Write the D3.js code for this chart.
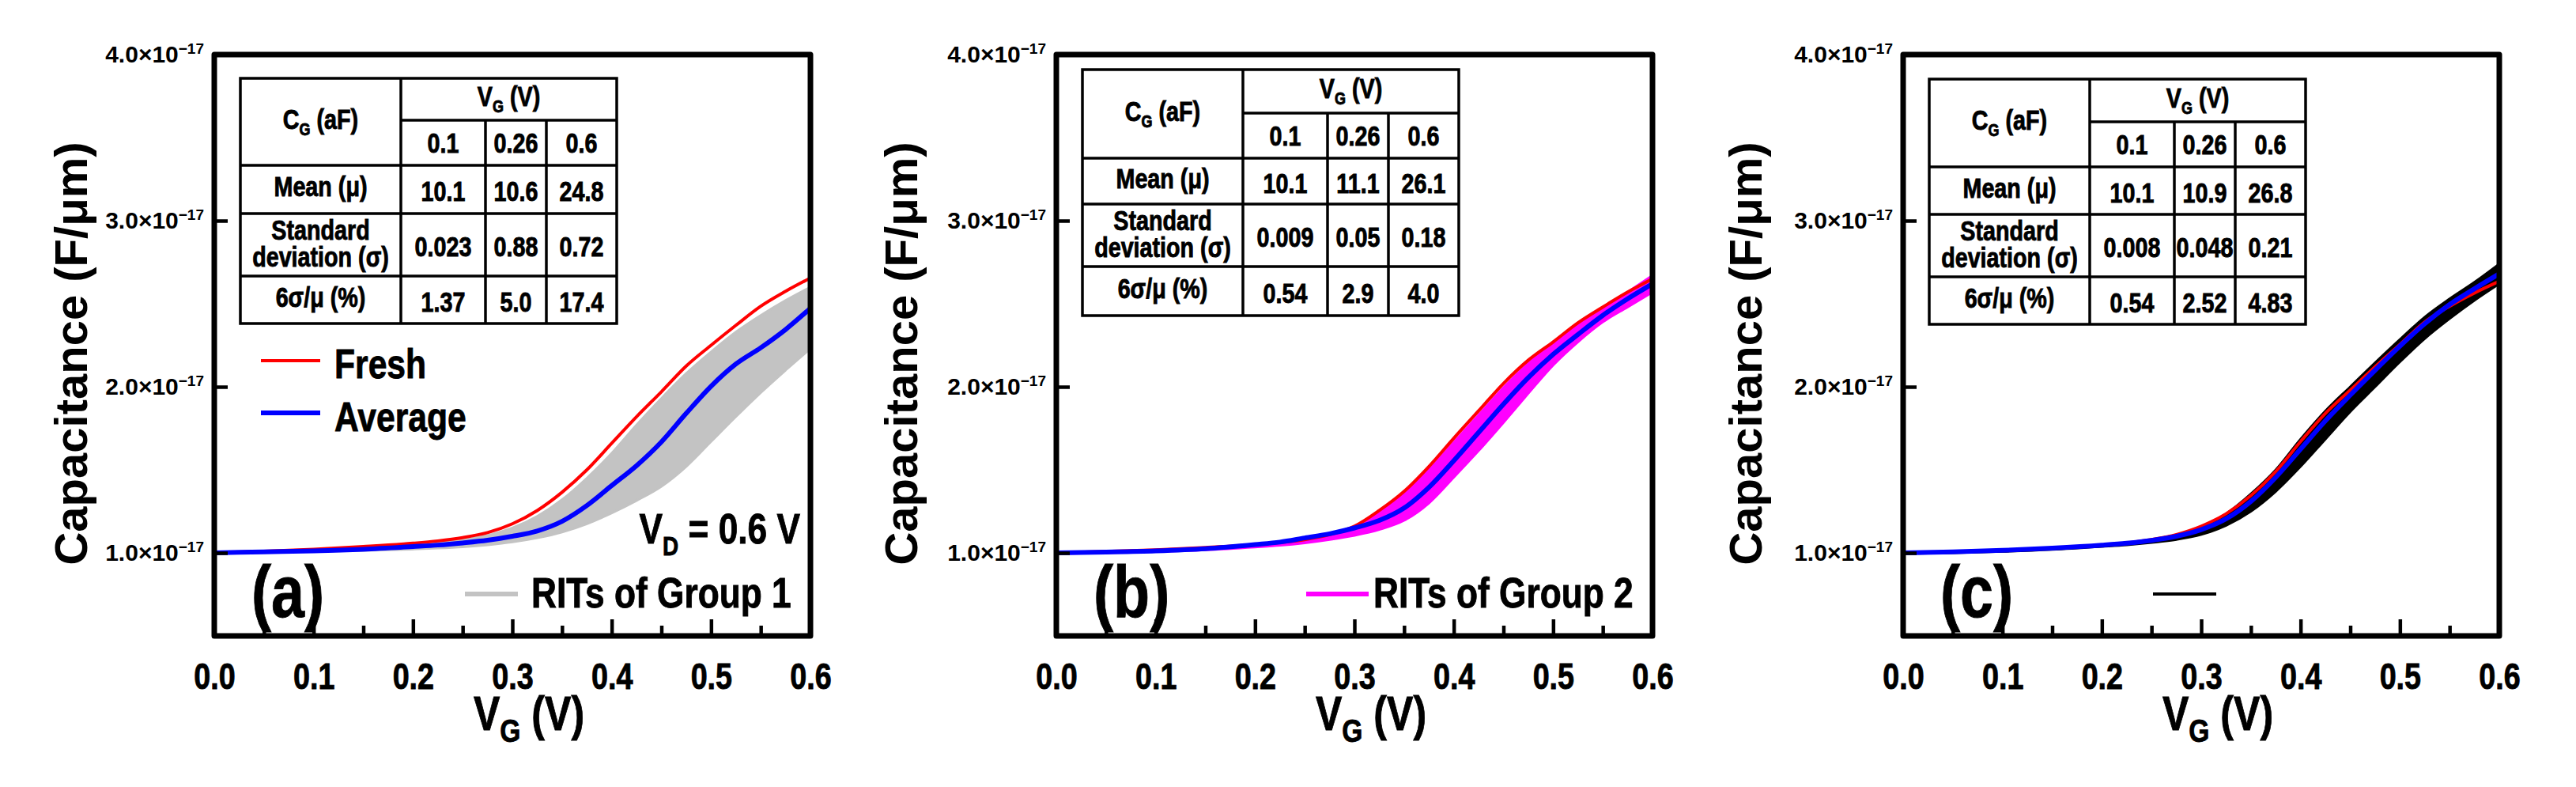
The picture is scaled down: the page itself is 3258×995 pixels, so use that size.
<!DOCTYPE html>
<html>
<head>
<meta charset="utf-8">
<script src="https://cdn.jsdelivr.net/npm/d3@7"></script>
<style>
  body { margin: 0; background: #fff; }
</style>
</head>
<body>
<div id="chart"></div>
<script>
// gate voltage grid shared by every curve (V)
var vgGrid = [0, 0.05, 0.1, 0.15, 0.2, 0.225, 0.25, 0.275, 0.3, 0.325, 0.35, 0.375, 0.4, 0.425, 0.45, 0.475, 0.5, 0.525, 0.55, 0.575, 0.6]

// capacitance, units of 1e-17 F/um
var freshA = [1.000, 1.010, 1.022, 1.038, 1.058, 1.072, 1.092, 1.122, 1.175, 1.255, 1.365, 1.500, 1.660, 1.820, 1.970, 2.125, 2.250, 2.370, 2.485, 2.575, 2.655]
var averageA = [1.000, 1.006, 1.012, 1.022, 1.038, 1.047, 1.060, 1.076, 1.100, 1.132, 1.190, 1.285, 1.405, 1.525, 1.668, 1.840, 2.003, 2.137, 2.235, 2.345, 2.473]
var ritsUpperA = [1.000, 1.008, 1.018, 1.032, 1.050, 1.060, 1.078, 1.105, 1.150, 1.220, 1.320, 1.450, 1.600, 1.770, 1.930, 2.080, 2.210, 2.330, 2.430, 2.520, 2.600]
var ritsLowerA = [1.000, 1.004, 1.008, 1.014, 1.022, 1.028, 1.036, 1.048, 1.065, 1.090, 1.125, 1.175, 1.240, 1.315, 1.400, 1.520, 1.670, 1.820, 1.965, 2.100, 2.230]

var freshB = [1.000, 1.008, 1.018, 1.032, 1.050, 1.063, 1.080, 1.110, 1.160, 1.255, 1.370, 1.520, 1.690, 1.855, 2.020, 2.160, 2.270, 2.385, 2.480, 2.570, 2.650]
var averageB = [1.000, 1.005, 1.012, 1.025, 1.050, 1.065, 1.090, 1.115, 1.150, 1.195, 1.270, 1.395, 1.555, 1.725, 1.895, 2.055, 2.195, 2.315, 2.430, 2.530, 2.620]
var ritsUpperB = [1.000, 1.008, 1.017, 1.030, 1.050, 1.062, 1.085, 1.110, 1.155, 1.240, 1.355, 1.500, 1.665, 1.830, 1.995, 2.140, 2.260, 2.370, 2.470, 2.570, 2.670]
var ritsLowerB = [0.995, 1.000, 1.008, 1.018, 1.035, 1.045, 1.060, 1.080, 1.105, 1.140, 1.195, 1.300, 1.455, 1.615, 1.785, 1.960, 2.130, 2.270, 2.390, 2.480, 2.570]

var freshC = [1.000, 1.006, 1.015, 1.028, 1.047, 1.060, 1.080, 1.110, 1.160, 1.235, 1.345, 1.490, 1.670, 1.840, 1.980, 2.120, 2.255, 2.390, 2.485, 2.565, 2.635]
var averageC = [1.000, 1.006, 1.015, 1.028, 1.046, 1.058, 1.075, 1.100, 1.140, 1.205, 1.310, 1.455, 1.625, 1.795, 1.950, 2.100, 2.245, 2.380, 2.495, 2.590, 2.680]
var ritsUpperC = [1.000, 1.007, 1.016, 1.030, 1.048, 1.060, 1.080, 1.108, 1.155, 1.235, 1.355, 1.500, 1.685, 1.855, 2.000, 2.145, 2.285, 2.420, 2.530, 2.630, 2.740]
var ritsLowerC = [0.995, 1.000, 1.008, 1.020, 1.038, 1.048, 1.062, 1.080, 1.110, 1.165, 1.250, 1.370, 1.520, 1.685, 1.850, 2.000, 2.150, 2.290, 2.410, 2.520, 2.620]

// inset tables (aF)
var tableVg = ['0.1', '0.26', '0.6']
var tableRowLabels = ['Mean (μ)', 'Standard|deviation (σ)', '6σ/μ (%)']
var meanA = ['10.1', '10.6', '24.8']
var sigmaA = ['0.023', '0.88', '0.72']
var ratioA = ['1.37', '5.0', '17.4']
var meanB = ['10.1', '11.1', '26.1']
var sigmaB = ['0.009', '0.05', '0.18']
var ratioB = ['0.54', '2.9', '4.0']
var meanC = ['10.1', '10.9', '26.8']
var sigmaC = ['0.008', '0.048', '0.21']
var ratioC = ['0.54', '2.52', '4.83']

// axes
var xMajor = [0, 0.1, 0.2, 0.3, 0.4, 0.5, 0.6]
var xMinor = [0.05, 0.15, 0.25, 0.35, 0.45, 0.55]
var yMajor = [1, 2, 3, 4]

var W = 3258
var H = 995
var frameW = 754
var frameTop = 69
var frameBottom = 804

var wide = "'Liberation Sans', Arial, sans-serif"
var squeeze = 0.82 // the figure uses a condensed bold face

var panels = [
  { left: 271, letter: '(a)', fresh: freshA, average: averageA, upper: ritsUpperA, lower: ritsLowerA,
    ritColor: '#c3c3c3', legendText: 'RITs of Group 1', legendLine: [317, 384], titleOffset: -182, showFreshLegend: true,
    rows: [99, 152, 209, 270, 349, 409], mean: meanA, sigma: sigmaA, ratio: ratioA },
  { left: 1336, letter: '(b)', fresh: freshB, average: averageB, upper: ritsUpperB, lower: ritsLowerB,
    ritColor: '#ff00ff', legendText: 'RITs of Group 2', legendLine: [316, 395], titleOffset: -197, showFreshLegend: false,
    rows: [88, 143, 200, 258, 337, 399], mean: meanB, sigma: sigmaB, ratio: ratioB },
  { left: 2407, letter: '(c)', fresh: freshC, average: averageC, upper: ritsUpperC, lower: ritsLowerC,
    ritColor: '#000000', legendText: '', legendLine: [316, 396], titleOffset: -200, showFreshLegend: false,
    rows: [100, 154, 211, 271, 350, 410], mean: meanC, sigma: sigmaC, ratio: ratioC }
]

var tableCols = [33, 236, 343, 420, 509]

var svg = d3.select('#chart').append('svg')
  .attr('width', W)
  .attr('height', H)
  .style('display', 'block')

svg.append('rect').attr('width', W).attr('height', H).attr('fill', '#fff')

var x = d3.scaleLinear().domain([0, 0.6]).range([0, frameW])
var y = d3.scaleLinear().domain([0.5, 4.0]).range([frameBottom, frameTop])

function lineFor (values) {
  return d3.line()
    .x(function (d, i) { return x(vgGrid[i]) })
    .y(function (d) { return y(d) })
    .curve(d3.curveMonotoneX)(values)
}

// condensed bold text anchored at (px, py)
function ntext (parent, px, py, size, anchor) {
  return parent.append('g')
    .attr('transform', 'translate(' + px + ',' + py + ') scale(' + squeeze + ',1)')
    .append('text')
    .attr('text-anchor', anchor || 'start')
    .attr('fill', '#000')
    .attr('stroke', '#000').attr('stroke-width', 0.9)
    .style('font-family', wide).style('font-weight', 'bold').style('font-size', size + 'px')
}

function drawTable (g, p) {
  var r = p.rows
  var c = tableCols
  var t = g.append('g')
  t.append('rect')
    .attr('x', c[0]).attr('y', r[0])
    .attr('width', c[4] - c[0]).attr('height', r[5] - r[0])
    .attr('fill', '#fff').attr('stroke', '#000').attr('stroke-width', 3.5)

  var segs = [
    [c[1], r[0], c[1], r[5]],
    [c[2], r[1], c[2], r[5]],
    [c[3], r[1], c[3], r[5]],
    [c[1], r[1], c[4], r[1]],
    [c[0], r[2], c[4], r[2]],
    [c[0], r[3], c[4], r[3]],
    [c[0], r[4], c[4], r[4]]
  ]
  segs.forEach(function (s) {
    t.append('line')
      .attr('x1', s[0]).attr('y1', s[1]).attr('x2', s[2]).attr('y2', s[3])
      .attr('stroke', '#000').attr('stroke-width', 3.5)
  })

  function cellText (cx, cy, str) {
    return ntext(t, cx, cy, 35, 'middle').attr('dy', '0.36em').text(str)
  }

  // header with subscripts
  var cg = cellText((c[0] + c[1]) / 2, (r[0] + r[2]) / 2 - 4, 'C')
  cg.append('tspan').attr('dy', 8).style('font-size', '22px').text('G')
  cg.append('tspan').attr('dy', -8).text(' (aF)')

  var vg = cellText((c[1] + c[4]) / 2, (r[0] + r[1]) / 2 - 4, 'V')
  vg.append('tspan').attr('dy', 8).style('font-size', '22px').text('G')
  vg.append('tspan').attr('dy', -8).text(' (V)')

  tableVg.forEach(function (v, i) {
    cellText((c[i + 1] + c[i + 2]) / 2, (r[1] + r[2]) / 2, v)
  })

  var rowValues = [p.mean, p.sigma, p.ratio]
  tableRowLabels.forEach(function (lab, j) {
    var top = r[j + 2]
    var bot = r[j + 3]
    var parts = lab.split('|')
    if (parts.length === 1) {
      cellText((c[0] + c[1]) / 2, (top + bot) / 2 - 4, parts[0])
    } else {
      cellText((c[0] + c[1]) / 2, (top + bot) / 2 - 19, parts[0])
      cellText((c[0] + c[1]) / 2, (top + bot) / 2 + 15, parts[1])
    }
    rowValues[j].forEach(function (v, i) {
      cellText((c[i + 1] + c[i + 2]) / 2, (top + bot) / 2 + 2, v)
    })
  })
}

function drawPanel (p) {
  var g = svg.append('g').attr('transform', 'translate(' + p.left + ',0)')

  // RIT band
  g.append('path')
    .attr('d', d3.area()
      .x(function (d, i) { return x(vgGrid[i]) })
      .y0(function (d, i) { return y(p.lower[i]) })
      .y1(function (d, i) { return y(p.upper[i]) })
      .curve(d3.curveMonotoneX)(vgGrid))
    .attr('fill', p.ritColor)
  ;[p.upper, p.lower].forEach(function (vals) {
    g.append('path').attr('d', lineFor(vals))
      .attr('fill', 'none').attr('stroke', p.ritColor).attr('stroke-width', 3)
  })

  g.append('path').attr('d', lineFor(p.fresh))
    .attr('fill', 'none').attr('stroke', '#ff0000').attr('stroke-width', 4)
  g.append('path').attr('d', lineFor(p.average))
    .attr('fill', 'none').attr('stroke', '#0000ff').attr('stroke-width', 6)

  // x axis, minor then major ticks pointing inward
  var xMinorAxis = g.append('g').attr('transform', 'translate(0,' + frameBottom + ')')
    .call(d3.axisBottom(x).tickValues(xMinor).tickSize(-13).tickFormat(''))
  var xAxis = g.append('g').attr('transform', 'translate(0,' + frameBottom + ')')
    .call(d3.axisBottom(x).tickValues(xMajor).tickSize(-21).tickPadding(34).tickFormat(d3.format('.1f')))
  var yAxis = g.append('g')
    .call(d3.axisLeft(y).tickValues(yMajor).tickSize(-17).tickPadding(13))

  ;[xMinorAxis, xAxis, yAxis].forEach(function (ax) {
    ax.select('.domain').remove()
    ax.selectAll('.tick line').attr('stroke', '#000').attr('stroke-width', 4.5)
  })
  xAxis.selectAll('.tick text')
    .attr('transform', 'scale(' + squeeze + ',1)')
    .attr('stroke', '#000').attr('stroke-width', 0.9)
    .style('font-family', wide).style('font-weight', 'bold').style('font-size', '46px')
    .attr('fill', '#000')

  yAxis.selectAll('.tick text').each(function (d) {
    var t = d3.select(this)
    t.text(null)
      .style('font-family', wide).style('font-weight', 'bold').style('font-size', '30px')
      .attr('fill', '#000')
    t.append('tspan').text(d3.format('.1f')(d) + '×10')
    t.append('tspan').attr('dy', '-0.6em').style('font-size', '19px').text('−17')
  })

  // frame
  g.append('rect')
    .attr('x', 0).attr('y', frameTop)
    .attr('width', frameW).attr('height', frameBottom - frameTop)
    .attr('fill', 'none').attr('stroke', '#000').attr('stroke-width', 7)
    .attr('stroke-linejoin', 'round')

  drawTable(g, p)

  // axis titles
  var xt = ntext(g, 398, 923, 61, 'middle').text('V')
  xt.append('tspan').attr('dy', 15).style('font-size', '41px').text('G')
  xt.append('tspan').attr('dy', -15).text(' (V)')

  g.append('text')
    .attr('transform', 'translate(' + p.titleOffset + ',447) rotate(-90)')
    .attr('text-anchor', 'middle').attr('dy', '0.36em')
    .style('font-family', wide).style('font-weight', 'bold').style('font-size', '58px')
    .text('Capacitance (F/μm)')

  // panel letter
  ntext(g, 47, 780, 92).text(p.letter)

  // RIT legend
  g.append('line')
    .attr('x1', p.legendLine[0]).attr('x2', p.legendLine[1]).attr('y1', 751).attr('y2', 751)
    .attr('stroke', p.ritColor).attr('stroke-width', p.ritColor === '#000000' ? 4 : 6)
  if (p.legendText) {
    ntext(g, 401, 768, 54).text(p.legendText)
  }

  if (p.showFreshLegend) {
    g.append('line').attr('x1', 59).attr('x2', 134).attr('y1', 456).attr('y2', 456)
      .attr('stroke', '#ff0000').attr('stroke-width', 4)
    ntext(g, 152, 478, 52).text('Fresh')
    g.append('line').attr('x1', 59).attr('x2', 134).attr('y1', 522).attr('y2', 522)
      .attr('stroke', '#0000ff').attr('stroke-width', 6)
    ntext(g, 152, 545, 52).text('Average')

    var vd = ntext(g, 741, 687, 54, 'end').text('V')
    vd.append('tspan').attr('dy', 15).style('font-size', '34px').text('D')
    vd.append('tspan').attr('dy', -15).text(' = 0.6 V')
  }
}

panels.forEach(function (p) { drawPanel(p) })
</script>
</body>
</html>
